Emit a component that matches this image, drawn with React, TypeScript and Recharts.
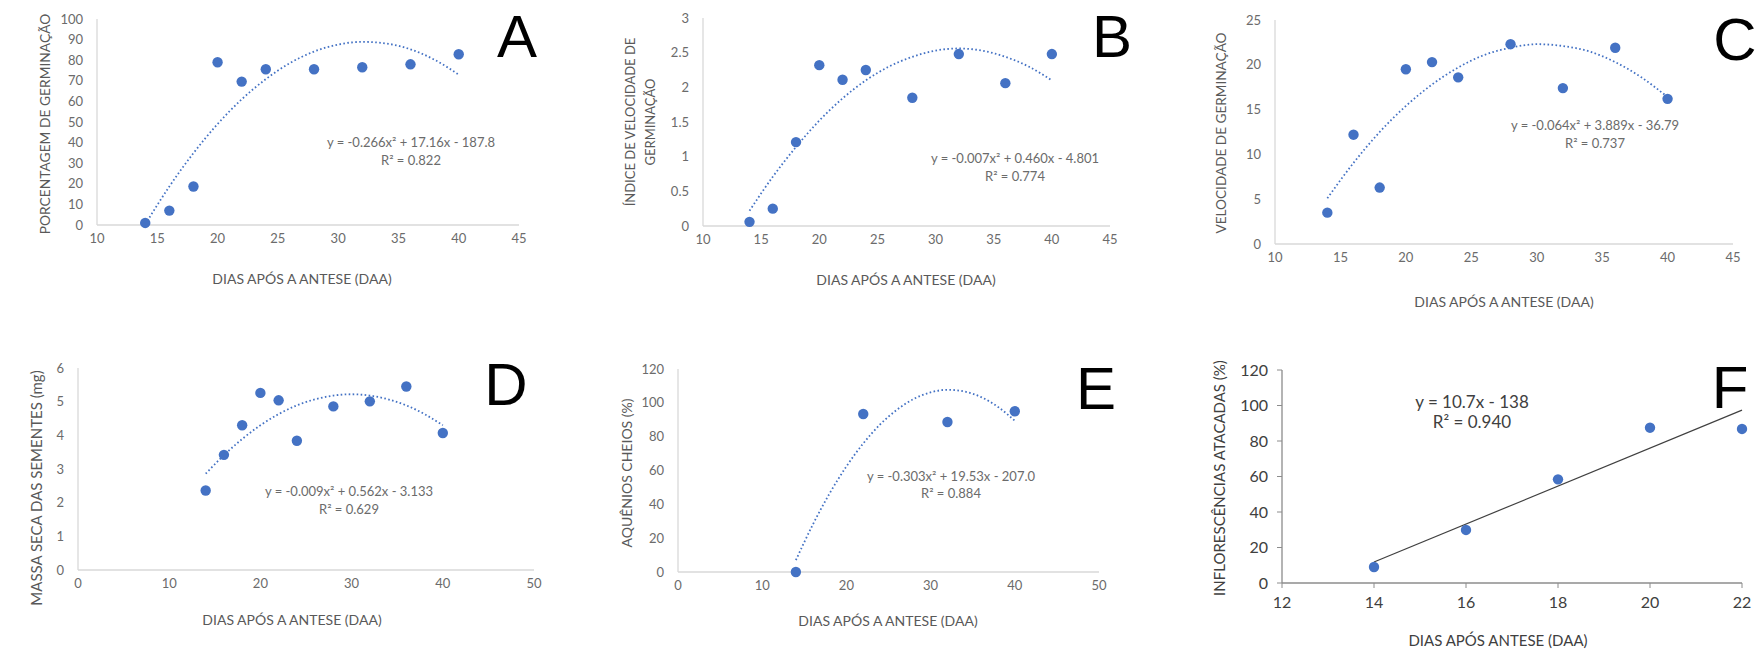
import React from "react";
import { ScatterChart, Scatter, XAxis, YAxis } from "recharts";

// ---------- data ----------
const daysMain = [14, 16, 18, 20, 22, 24, 28, 32, 36, 40];
const germPct = [1, 7, 18.7, 79, 69.6, 75.6, 75.6, 76.6, 78, 82.9];
const germIndex = [0.06, 0.25, 1.21, 2.32, 2.11, 2.25, 1.85, 2.48, 2.06, 2.48];
const germSpeed = [3.5, 12.2, 6.3, 19.5, 20.3, 18.6, 22.3, 17.4, 21.9, 16.2];
const dryMass = [2.36, 3.42, 4.3, 5.26, 5.04, 3.84, 4.86, 5.01, 5.45, 4.07];
const daysE = [14, 22, 32, 40];
const fullAchenes = [0, 93.4, 88.7, 95];
const daysF = [14, 16, 18, 20, 22];
const attacked = [9, 29.9, 58.4, 87.5, 86.8];

const trendDays = [14, 16, 18, 20, 22, 24, 26, 28, 30, 32, 34, 36, 38, 40];
const trendA = [0.3, 18.7, 34.9, 49.0, 61.0, 70.8, 78.6, 84.2, 87.6, 88.9, 88.1, 85.3, 80.2, 73.0];
const trendB = [0.22, 0.71, 1.14, 1.52, 1.84, 2.1, 2.3, 2.44, 2.53, 2.56, 2.53, 2.44, 2.3, 2.1];
const trendC = [5.1, 9.05, 12.5, 15.4, 17.8, 19.7, 21.1, 21.9, 22.3, 22.1, 21.5, 20.3, 18.6, 16.4];
const trendD = [2.86, 3.41, 3.89, 4.3, 4.63, 4.89, 5.07, 5.18, 5.22, 5.18, 5.07, 4.89, 4.63, 4.3];
const trendE = [7.0, 27.9, 46.4, 62.4, 76.0, 87.2, 95.9, 102.3, 106.2, 107.7, 106.7, 103.4, 97.6, 89.4];
const trendFDays = [14, 22];
const trendF = [11.8, 97.4];

const ticksX1 = [10, 15, 20, 25, 30, 35, 40, 45];
const ticksX2 = [0, 10, 20, 30, 40, 50];
const ticksXF = [12, 14, 16, 18, 20, 22];
const ticksA = [0, 10, 20, 30, 40, 50, 60, 70, 80, 90, 100];
const ticksB = [0, 0.5, 1, 1.5, 2, 2.5, 3];
const ticksC = [0, 5, 10, 15, 20, 25];
const ticksD = [0, 1, 2, 3, 4, 5, 6];
const ticksE = [0, 20, 40, 60, 80, 100, 120];
const ticksF = [0, 20, 40, 60, 80, 100, 120];

const zip = (xs: number[], ys: number[]) => xs.map((x, i) => ({ x, y: ys[i] }));

const BLUE = "#4472C4";
const FONT = "Lato, 'Open Sans', sans-serif";

type PanelProps = {
  x0: number; x1: number; y0: number; y1: number;
  xDomain: [number, number]; yDomain: [number, number];
  xTicks: number[]; yTicks: number[];
  points: { x: number; y: number }[];
  trend: { x: number; y: number }[];
  dark?: boolean;
};

const YW = 60;
const MT = 10;
const MR = 14;
const XH = 40;

function Panel(p: PanelProps) {
  const w = p.x1 - p.x0 + YW + MR;
  const h = p.y1 - p.y0 + MT + XH;
  const axisColor = p.dark ? "#8c8c8c" : "#d9d9d9";
  const tickFill = p.dark ? "#404040" : "#6b6b6b";
  const fs = p.dark ? 16 : 13;
  return (
    <div style={{ position: "absolute", left: p.x0 - YW, top: p.y0 - MT }}>
      <ScatterChart width={w} height={h} margin={{ top: MT, right: MR, left: 0, bottom: 0 }} style={{ overflow: "visible" }}>
        <XAxis
          type="number"
          dataKey="x"
          domain={p.xDomain}
          ticks={p.xTicks}
          interval={0}
          height={XH}
          stroke={axisColor}
          axisLine={{ stroke: axisColor, strokeWidth: 1.3 }}
          tickLine={p.dark ? { stroke: axisColor } : false}
          tickSize={p.dark ? 5 : 6}
          tickMargin={p.dark ? 9 : 3}
          tick={{ fill: tickFill, fontSize: fs, fontFamily: FONT }}
        />
        <YAxis
          type="number"
          dataKey="y"
          domain={p.yDomain}
          ticks={p.yTicks}
          interval={0}
          width={YW}
          stroke={axisColor}
          axisLine={{ stroke: axisColor, strokeWidth: 1.3 }}
          tickLine={p.dark ? { stroke: axisColor } : false}
          tickSize={p.dark ? 5 : 6}
          tickMargin={p.dark ? 9 : 8}
          tick={{ fill: tickFill, fontSize: fs, fontFamily: FONT }}
        />
        <Scatter
          data={p.trend}
          isAnimationActive={false}
          line={
            p.dark
              ? { stroke: "#404040", strokeWidth: 1.2 }
              : { stroke: BLUE, strokeWidth: 1.8, strokeDasharray: "1.6 2.4" }
          }
          lineType="joint"
          lineJointType="monotoneX"
          shape={() => <g />}
        />
        <Scatter data={p.points} fill={BLUE} isAnimationActive={false} shape={(s: any) => <circle cx={s.cx} cy={s.cy} r={5.2} fill={BLUE} />} />
      </ScatterChart>
    </div>
  );
}

const txt = (
  s: string,
  cx: number,
  cy: number,
  size: number,
  color: string,
  rotate = false,
  family = FONT
) => (
  <div
    key={s + cx + cy}
    style={{
      position: "absolute",
      left: cx,
      top: cy,
      transform: `translate(-50%, -50%)${rotate ? " rotate(-90deg)" : ""}`,
      whiteSpace: "nowrap",
      fontSize: size,
      color,
      fontFamily: family,
      lineHeight: 1,
    }}
  >
    {s}
  </div>
);

const eq = (l1: string, l2: string, cx: number, cy1: number, cy2: number, dark = false) => (
  <>
    {txt(l1, cx, cy1, dark ? 17 : 13, dark ? "#404040" : "#6b6b6b")}
    {txt(l2, cx, cy2, dark ? 17 : 13, dark ? "#404040" : "#6b6b6b")}
  </>
);

const LETTER = "'Liberation Sans', Arial, sans-serif";
const TITLE = "#595959";

export default function App() {
  return (
    <div style={{ position: "fixed", left: 0, top: 0, width: 1758, height: 654, background: "#fff", overflow: "hidden" }}>
      {/* A */}
      <Panel x0={97} x1={519} y0={19} y1={225} xDomain={[10, 45]} yDomain={[0, 100]} xTicks={ticksX1} yTicks={ticksA}
        points={zip(daysMain, germPct)} trend={zip(trendDays, trendA)} />
      {txt("PORCENTAGEM DE GERMINAÇÃO", 45, 124, 13.8, TITLE, true)}
      {txt("DIAS APÓS A ANTESE (DAA)", 302, 279, 14, TITLE)}
      {eq("y = -0.266x² + 17.16x - 187.8", "R² = 0.822", 411, 142, 160)}
      {txt("A", 517, 37, 60, "#000", false, LETTER)}

      {/* B */}
      <Panel x0={703} x1={1110} y0={18} y1={226} xDomain={[10, 45]} yDomain={[0, 3]} xTicks={ticksX1} yTicks={ticksB}
        points={zip(daysMain, germIndex)} trend={zip(trendDays, trendB)} />
      {txt("ÍNDICE DE VELOCIDADE DE", 630, 122, 13, TITLE, true)}
      {txt("GERMINAÇÃO", 650, 122, 13, TITLE, true)}
      {txt("DIAS APÓS A ANTESE (DAA)", 906, 280, 14, TITLE)}
      {eq("y = -0.007x² + 0.460x - 4.801", "R² = 0.774", 1015, 158, 176)}
      {txt("B", 1112, 37, 60, "#000", false, LETTER)}

      {/* C */}
      <Panel x0={1275} x1={1733} y0={20} y1={244} xDomain={[10, 45]} yDomain={[0, 25]} xTicks={ticksX1} yTicks={ticksC}
        points={zip(daysMain, germSpeed)} trend={zip(trendDays, trendC)} />
      {txt("VELOCIDADE DE GERMINAÇÃO", 1222, 133, 13.6, TITLE, true)}
      {txt("DIAS APÓS A ANTESE (DAA)", 1504, 302, 14, TITLE)}
      {eq("y = -0.064x² + 3.889x - 36.79", "R² = 0.737", 1595, 125, 143)}
      {txt("C", 1735, 40, 60, "#000", false, LETTER)}

      {/* D */}
      <Panel x0={78} x1={534} y0={368} y1={570} xDomain={[0, 50]} yDomain={[0, 6]} xTicks={ticksX2} yTicks={ticksD}
        points={zip(daysMain, dryMass)} trend={zip(trendDays, trendD)} />
      {txt("MASSA SECA DAS SEMENTES (mg)", 36, 488, 15, TITLE, true)}
      {txt("DIAS APÓS A ANTESE (DAA)", 292, 620, 14, TITLE)}
      {eq("y = -0.009x² + 0.562x - 3.133", "R² = 0.629", 349, 491, 509)}
      {txt("D", 506, 385, 60, "#000", false, LETTER)}

      {/* E */}
      <Panel x0={678} x1={1099} y0={369} y1={572} xDomain={[0, 50]} yDomain={[0, 120]} xTicks={ticksX2} yTicks={ticksE}
        points={zip(daysE, fullAchenes)} trend={zip(trendDays, trendE)} />
      {txt("AQUÊNIOS CHEIOS  (%)", 627, 473, 14, TITLE, true)}
      {txt("DIAS APÓS A ANTESE (DAA)", 888, 621, 14, TITLE)}
      {eq("y = -0.303x² + 19.53x - 207.0", "R² = 0.884", 951, 476, 493)}
      {txt("E", 1096, 389, 60, "#000", false, LETTER)}

      {/* F */}
      <Panel x0={1282} x1={1742} y0={370} y1={583} xDomain={[12, 22]} yDomain={[0, 120]} xTicks={ticksXF} yTicks={ticksF}
        points={zip(daysF, attacked)} trend={zip(trendFDays, trendF)} dark />
      {txt("INFLORESCÊNCIAS  ATACADAS (%)", 1219, 478, 15, "#404040", true)}
      {txt("DIAS APÓS ANTESE (DAA)", 1498, 640, 15, "#404040")}
      {eq("y = 10.7x - 138", "R² = 0.940", 1472, 401, 421, true)}
      {txt("F", 1730, 388, 60, "#000", false, LETTER)}
    </div>
  );
}
